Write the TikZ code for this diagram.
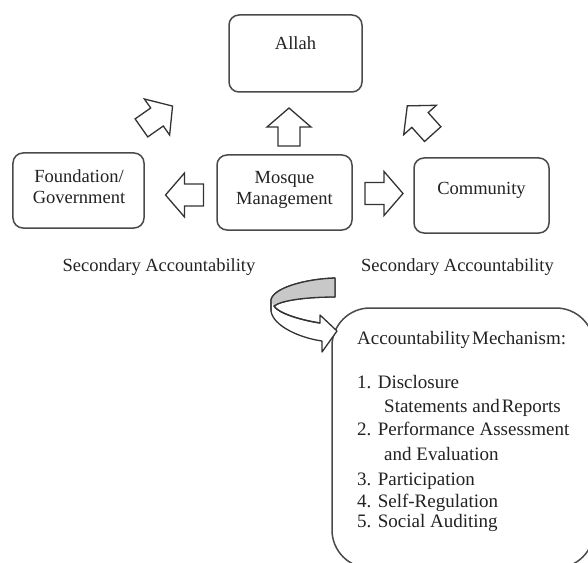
\documentclass[tikz,border=0pt]{standalone}
\usepackage{fontspec}
\setmainfont{Liberation Serif}
\definecolor{boxgray}{HTML}{4A4A4A}
\definecolor{inkgray}{HTML}{222222}
\definecolor{ribbongray}{HTML}{C8C8C8}
\definecolor{arrowgray}{HTML}{333333}

% block arrow: centre x, centre y, direction (degrees)
\newcommand\blockarrowat[3]{%
  \draw[blockarrow, shift={(#1,#2)}, rotate=#3]
    (-19,-11) -- (0,-11) -- (0,-22) -- (19,0) -- (0,22) -- (0,11) -- (-19,11) -- cycle;}

\begin{document}
\begin{tikzpicture}[x=1bp,y=-1bp,
  box/.style={draw=boxgray, line width=1.5bp, rounded corners=10bp, fill=white, inner sep=0pt},
  lbl/.style={font=\fontsize{18.5bp}{21bp}\selectfont, text=inkgray, inner sep=0pt, anchor=base},
  listtxt/.style={font=\fontsize{19bp}{22bp}\selectfont, text=inkgray, inner sep=0pt, anchor=base west},
  blockarrow/.style={draw=arrowgray, line width=1.3bp, fill=white, line join=miter},
  ribbon/.style={draw=arrowgray, line width=1.3bp, line join=round}]
\useasboundingbox (0,0) rectangle (588,563);
\clip (0,0) rectangle (588,563);

% boxes
\node[box, minimum width=133bp, minimum height=77bp] (allah) at (295.5,53.5) {};
\node[box, minimum width=131bp, minimum height=75bp] (found) at (78.5,190.5) {};
\node[box, minimum width=135bp, minimum height=75bp] (mosque) at (284.5,192.5) {};
\node[box, minimum width=135bp, minimum height=75bp] (comm) at (481.5,195.5) {};
\node[box, rounded corners=38bp, minimum width=262bp, minimum height=260bp] (mech) at (463,438) {};

% box labels
\node[lbl] (tallah) at (295.5,50) {Allah};
\node[lbl] (tfound1) at (79,182) {Foundation/};
\node[lbl] (tfound2) at (79,203) {Government};
\node[lbl] (tmosque1) at (284.5,183) {Mosque};
\node[lbl] (tmosque2) at (284.5,204) {Management};
\node[lbl] (tcomm) at (481.5,194) {Community};
\node[lbl] (secleft) at (159,271) {Secondary Accountability};
\node[lbl] (secright) at (457.5,271) {Secondary Accountability};

% block arrows
\blockarrowat{289}{127}{90}
\blockarrowat{184.5}{195}{180}
\blockarrowat{384}{193.5}{0}
\blockarrowat{157}{117}{35}
\blockarrowat{420}{120}{132}

% curved ribbon arrow
\filldraw[ribbon, fill=white]
  (335,278) .. controls (305,279) and (273,288) .. (271,300)
  -- (271,311) .. controls (273,326) and (300,338) .. (322,341)
  -- (322,352) -- (337,331) -- (320,315) -- (320,323)
  .. controls (300,320) and (278,313) .. (274,306)
  .. controls (282,300) and (308,297) .. (335,297) -- cycle;
\fill[ribbongray]
  (335,278) .. controls (305,279) and (273,288) .. (271,300)
  .. controls (272,303) and (273,305) .. (274,306)
  .. controls (282,300) and (308,297) .. (335,297) -- cycle;
\draw[ribbon]
  (335,278) .. controls (305,279) and (273,288) .. (271,300) -- (271,311);
\draw[ribbon]
  (320,323) .. controls (300,320) and (278,313) .. (274,306)
  .. controls (282,300) and (308,297) .. (335,297) -- (335,278);

% mechanism list
\node[listtxt] (mhead) at (357,344) {Accountability\hspace{2bp}Mechanism:};
\node[listtxt] (m1) at (357,388) {1. Disclosure};
\node[listtxt] (m1b) at (384,412) {Statements and\hspace{2bp}Reports};
\node[listtxt] (m2) at (357,435) {2. Performance Assessment};
\node[listtxt] (m2b) at (384,460) {and Evaluation};
\node[listtxt] (m3) at (357,485) {3. Participation};
\node[listtxt] (m4) at (357,507) {4. Self-Regulation};
\node[listtxt] (m5) at (357,527) {5. Social Auditing};
\end{tikzpicture}
\end{document}
